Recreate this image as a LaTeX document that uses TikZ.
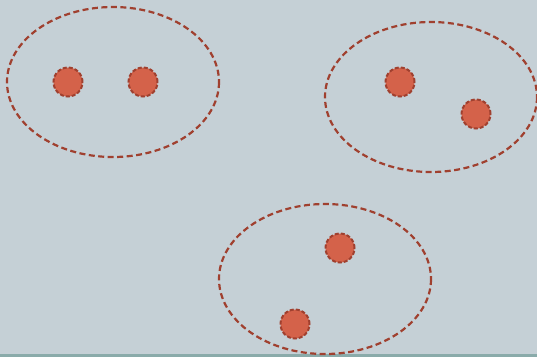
\documentclass[tikz,border=0pt]{standalone}
\begin{document}
\begin{tikzpicture}[x=1pt,y=-1pt,
  grp/.style={draw=grpc, line width=2.2pt, dash pattern=on 6pt off 3.5pt},
  dot/.style={circle, fill=dotc, draw=grpc, line width=2pt, dash pattern=on 4pt off 2pt, minimum size=29pt, inner sep=0pt}]
\definecolor{bgc}{HTML}{C5D0D6}
\definecolor{grpc}{HTML}{A0402F}
\definecolor{dotc}{HTML}{D4624A}
\definecolor{linec}{HTML}{8AABAA}
\fill[bgc] (0,0) rectangle (537,357);
\useasboundingbox (0,0) rectangle (537,357);
\fill[linec] (0,354) rectangle (537,357);
\draw[grp] (113,82) ellipse [x radius=106, y radius=75];
\draw[grp] (431,97) ellipse [x radius=106, y radius=75];
\draw[grp] (325,279) ellipse [x radius=106, y radius=75];
\node[dot] (a) at (68,82) {};
\node[dot] (b) at (143,82) {};
\node[dot] (c) at (400,82) {};
\node[dot] (d) at (476,114) {};
\node[dot] (e) at (340,248) {};
\node[dot] (f) at (295,324) {};
\end{tikzpicture}
\end{document}
